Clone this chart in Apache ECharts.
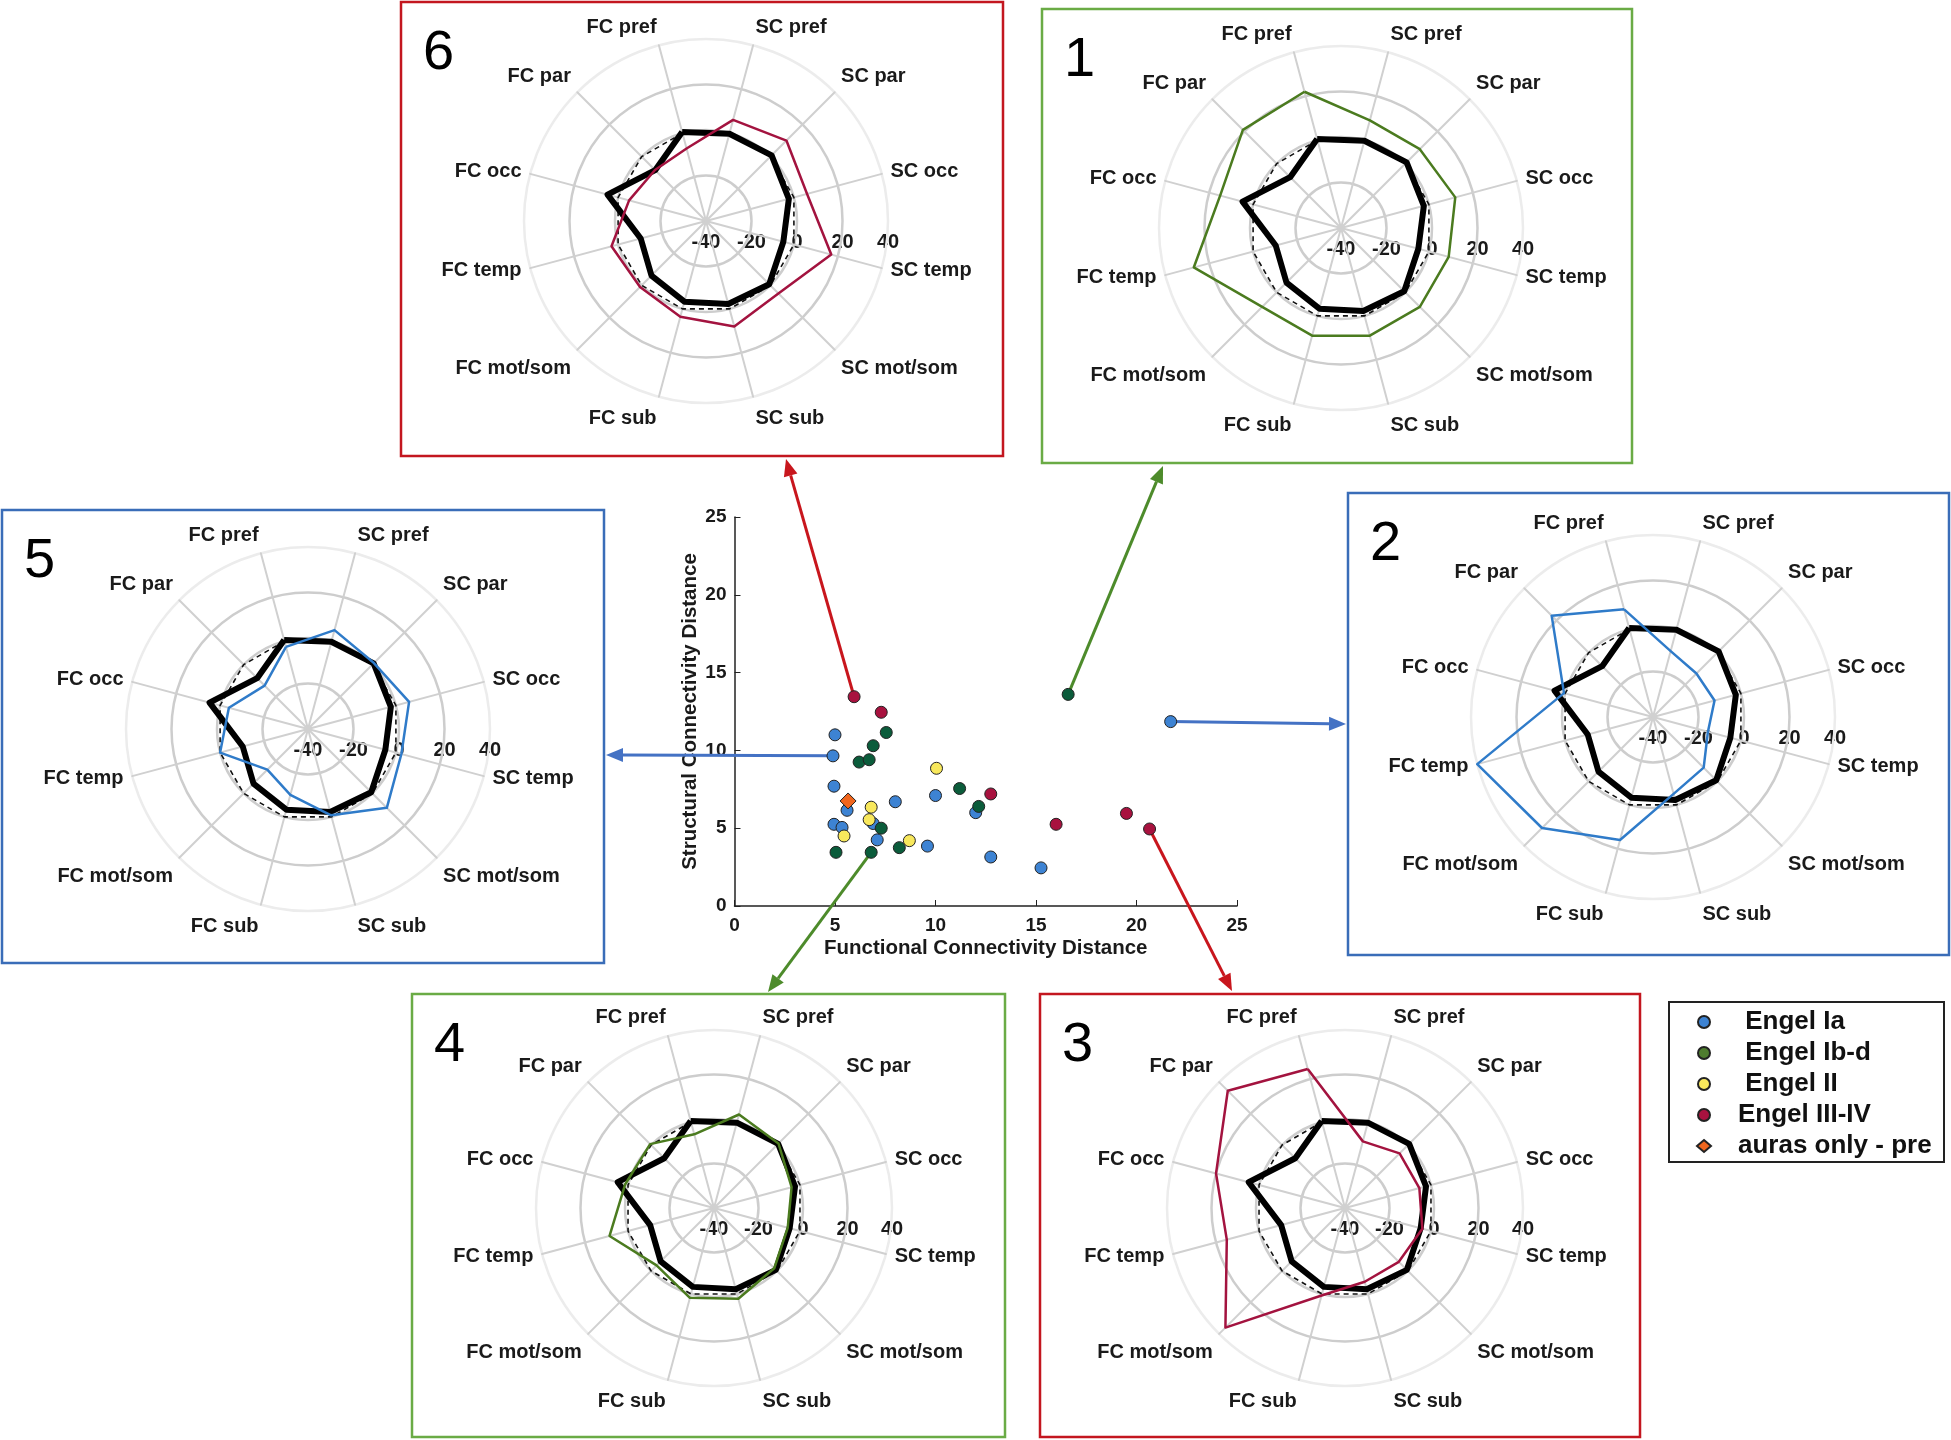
<!DOCTYPE html>
<html>
<head>
<meta charset="utf-8">
<title>FC / SC connectivity distance</title>
<script src="https://cdn.jsdelivr.net/npm/echarts@6/dist/echarts.min.js"></script>
<style>
  html, body { margin: 0; padding: 0; background: #fff; }
  #main { width: 1951px; height: 1440px; }
</style>
</head>
<body>
<div id="main"></div>
<script>
var FONT = '"Liberation Sans", Arial, sans-serif';

// radar axes, counter-clockwise starting at FC pref
var regions = ['FC pref', 'FC par', 'FC occ', 'FC temp', 'FC mot/som', 'FC sub',
               'SC sub', 'SC mot/som', 'SC temp', 'SC occ', 'SC par', 'SC pref'];
var radarTicks = [-40, -20, 0, 20, 40];

// thick black profile and dashed zero reference (same in every panel)
var groupProfile = [0.5, -8.4, 4.8, -10.3, -6.1, -3.3, -2.2, -0.7, -4.8, -2.3, 0.8, -0.3];
var zeroProfile  = [0, 0, 0, 0, 0, 0, 0, 0, 0, 0, 0, 0];

// single patients shown in panels 1-6
var patient1 = [22, 21, 15, 27, 9, 9, 9, 9, 9, 12, 9, 9];
var patient2 = [9, 23, 0.5, 40, 29, 16, -5, -8.5, -15, -12, -13, -10];
var patient3 = [24.7, 34.5, 20, 15, 36, 0.7, -5.7, -5.8, -4, -5.4, -5.3, -9];
var patient4 = [-5.7, 0.6, 1.3, 8.6, -3.5, 1.8, 2.2, -1.7, -5.7, -3.9, 1, 3.5];
var patient5 = [-2.6, -13, -4, 0, -14.7, -10, -0.7, 9, 2.5, 6, 1, 5];
var patient6 = [-7, -8.3, -5, 3, 1, 3.6, 8, 5, 17, 6, 10, 6];

// scatter: [functional distance, structural distance]
var engelIa = [[5.0, 11.0], [4.9, 9.65], [4.95, 7.7], [5.6, 6.15], [4.95, 5.25], [5.35, 5.05],
               [6.9, 5.3], [7.1, 4.25], [8.0, 6.7], [10.0, 7.1], [9.6, 3.85], [12.0, 6.0],
               [12.75, 3.15], [15.25, 2.45], [21.7, 11.85]];
var engelIbd = [[16.6, 13.6], [7.55, 11.15], [6.9, 10.3], [6.2, 9.25], [6.7, 9.4], [11.2, 7.55],
                [12.15, 6.4], [7.3, 5.0], [5.05, 3.45], [6.8, 3.45], [8.2, 3.75]];
var engelII = [[10.05, 8.85], [6.8, 6.35], [6.7, 5.55], [5.45, 4.5], [8.7, 4.2]];
var engelIIIIV = [[5.95, 13.45], [7.3, 12.45], [12.75, 7.2], [16.0, 5.25], [19.5, 5.95], [20.65, 4.95]];
var aurasOnly = [[5.65, 6.75]];

var RED = '#c3161f', GREEN = '#6aab45', BLUE = '#3a6db8';
var RED_LINE = '#a3133f', GREEN_LINE = '#4b7b1f', BLUE_LINE = '#2f7bc9';

var panels = [
    { label: '6', box: [401, 2, 602, 454],    center: [706, 221],   radius: 182, frame: RED,   line: RED_LINE,   values: patient6 },
    { label: '1', box: [1042, 9, 590, 454],   center: [1341, 228],  radius: 182, frame: GREEN, line: GREEN_LINE, values: patient1 },
    { label: '2', box: [1348, 493, 601, 462], center: [1653, 717],  radius: 182, frame: BLUE,  line: BLUE_LINE,  values: patient2 },
    { label: '5', box: [2, 510, 602, 453],    center: [308, 729],   radius: 182, frame: BLUE,  line: BLUE_LINE,  values: patient5 },
    { label: '4', box: [412, 994, 593, 443],  center: [714, 1208],  radius: 178, frame: GREEN, line: GREEN_LINE, values: patient4 },
    { label: '3', box: [1040, 994, 600, 443], center: [1345, 1208], radius: 178, frame: RED,   line: RED_LINE,   values: patient3 }
];

// which scatter point leads to which panel, arrow tip on the panel frame
var arrows = [
    { point: engelIIIIV[0], tip: [786, 459],   color: '#c8161d' },
    { point: engelIbd[0],   tip: [1163, 466],  color: '#4d8b2b' },
    { point: engelIa[1],    tip: [606, 755],   color: '#4472c4' },
    { point: engelIa[14],   tip: [1346, 724],  color: '#4472c4' },
    { point: engelIbd[9],   tip: [768, 992],   color: '#4d8b2b' },
    { point: engelIIIIV[5], tip: [1232, 991],  color: '#c8161d' }
];

function nameRow(name) {
    if (/pref|par/.test(name)) return 'up';
    if (/mot|sub/.test(name)) return 'dn';
    return 'mid';
}

var nameStyle = { fontSize: 20, fontWeight: 'bold', fontFamily: FONT, color: '#1a1a1a' };
var radars = [], series = [], graphics = [];

panels.forEach(function (p, i) {
    radars.push({
        center: p.center,
        radius: p.radius,
        startAngle: 105,
        shape: 'circle',
        splitNumber: 4,
        indicator: regions.map(function (n) { return { name: n, min: -40, max: 40 }; }),
        axisNameGap: 9,
        axisName: {
            formatter: function (name) { return '{' + nameRow(name) + '|' + name + '}'; },
            rich: {
                up: Object.assign({ padding: [0, 0, 19, 0] }, nameStyle),
                mid: Object.assign({}, nameStyle),
                dn: Object.assign({ padding: [25, 0, 0, 0] }, nameStyle)
            }
        },
        splitLine: { lineStyle: { color: ['#cdcdcd', '#cdcdcd', '#cdcdcd', '#cdcdcd', '#ececec'], width: 2.5 } },
        splitArea: { show: false },
        axisLine: { lineStyle: { color: '#d0d0d0', width: 2 } },
        axisTick: { show: false },
        axisLabel: { show: false }
    });
    series.push({
        type: 'radar', radarIndex: i, symbol: 'none', silent: true, z: 3,
        data: [
            { value: zeroProfile, lineStyle: { color: '#111', width: 1.6, type: [5, 4] } },
            { value: groupProfile, lineStyle: { color: '#000', width: 6 } },
            { value: p.values, lineStyle: { color: p.line, width: 2.5 } }
        ]
    });
    graphics.push({
        type: 'rect', shape: { x: p.box[0], y: p.box[1], width: p.box[2], height: p.box[3] },
        style: { fill: 'none', stroke: p.frame, lineWidth: 2.5 }
    });
    graphics.push({
        type: 'text', x: p.box[0] + 22, y: p.box[1] + 24,
        style: { text: p.label, font: 'normal 56px ' + FONT, fill: '#000', textVerticalAlign: 'top' }
    });
    graphics.push({
        type: 'circle', shape: { cx: p.center[0], cy: p.center[1], r: 2.5 }, style: { fill: '#555' }
    });
    radarTicks.forEach(function (t) {
        graphics.push({
            type: 'text', x: p.center[0] + (t + 40) / 80 * p.radius, y: p.center[1] + 21,
            style: { text: String(t), font: 'bold 20px ' + FONT, fill: '#1a1a1a',
                     textAlign: 'center', textVerticalAlign: 'middle' }
        });
    });
});

// legend frame
graphics.push({
    type: 'rect', shape: { x: 1669, y: 1002, width: 275, height: 160 },
    style: { fill: 'none', stroke: '#222', lineWidth: 2 }
});

function scatter(name, data, color, symbol) {
    return {
        type: 'scatter', name: name, data: data, xAxisIndex: 0, yAxisIndex: 0,
        symbol: symbol || 'circle', symbolSize: symbol ? 16 : 12, z: 6,
        itemStyle: { color: color, borderColor: '#222', borderWidth: 1, opacity: 1 }
    };
}
series.push(scatter('Engel Ia', engelIa, '#3d83d3'));
series.push(scatter('Engel Ib-d', engelIbd, '#0b5c3b'));
series.push(scatter('Engel II', engelII, '#f8e85c'));
series.push(scatter('Engel III-IV', engelIIIIV, '#a8123f'));
series.push(scatter('auras only - pre', aurasOnly, '#f0661e', 'diamond'));

var indented = ['Engel Ia', 'Engel Ib-d', 'Engel II'];
var axisText = { fontSize: 19, fontWeight: 'bold', fontFamily: FONT, color: '#1a1a1a' };
var axisNameText = { fontSize: 20.5, fontWeight: 'bold', fontFamily: FONT, color: '#1a1a1a' };

var option = {
    animation: false,
    backgroundColor: '#fff',
    radar: radars,
    grid: { left: 734.5, top: 517, width: 502.5, height: 389 },
    xAxis: {
        type: 'value', min: 0, max: 25, interval: 5,
        name: 'Functional Connectivity Distance', nameLocation: 'middle', nameGap: 32,
        nameTextStyle: axisNameText,
        axisLine: { lineStyle: { color: '#222', width: 1.5 } },
        axisTick: { inside: true, length: 6, lineStyle: { color: '#222' } },
        axisLabel: Object.assign({ margin: 10 }, axisText),
        splitLine: { show: false }
    },
    yAxis: {
        type: 'value', min: 0, max: 25, interval: 5,
        name: 'Structural Connectivity Distance', nameLocation: 'middle', nameGap: 34,
        nameTextStyle: axisNameText,
        axisLine: { show: true, lineStyle: { color: '#222', width: 1.5 } },
        axisTick: { show: true, inside: true, length: 6, lineStyle: { color: '#222' } },
        axisLabel: Object.assign({ margin: 8 }, axisText),
        splitLine: { show: false }
    },
    legend: {
        orient: 'vertical', left: 1691, top: 1004,
        itemWidth: 14, itemHeight: 12, itemGap: 5,
        selectedMode: false,
        formatter: function (n) { return (indented.indexOf(n) >= 0 ? ' ' : '') + n; },
        textStyle: { fontSize: 26, fontWeight: 'bold', fontFamily: FONT, color: '#111',
                     lineHeight: 26, padding: [0, 0, 0, 22] },
        data: [
            { name: 'Engel Ia', icon: 'circle' },
            { name: 'Engel Ib-d', icon: 'circle', itemStyle: { color: '#4f7d2f' } },
            { name: 'Engel II', icon: 'circle' },
            { name: 'Engel III-IV', icon: 'circle' },
            { name: 'auras only - pre', icon: 'diamond' }
        ]
    },
    graphic: graphics,
    series: series
};

var chart = echarts.init(document.getElementById('main'), null, { renderer: 'canvas' });
chart.setOption(option);

// arrows from the scatter points out to their panels
arrows.forEach(function (a) {
    var s = chart.convertToPixel({ gridIndex: 0 }, a.point);
    var dx = a.tip[0] - s[0], dy = a.tip[1] - s[1];
    var len = Math.sqrt(dx * dx + dy * dy), ux = dx / len, uy = dy / len;
    var head = 17, half = 7;
    var bx = a.tip[0] - ux * head, by = a.tip[1] - uy * head;
    graphics.push({
        type: 'line', z: 1,
        shape: { x1: s[0], y1: s[1], x2: bx, y2: by },
        style: { stroke: a.color, lineWidth: 3 }
    });
    graphics.push({
        type: 'polygon', z: 1,
        shape: { points: [a.tip, [bx - uy * half, by + ux * half], [bx + uy * half, by - ux * half]] },
        style: { fill: a.color }
    });
});
chart.setOption({ graphic: graphics });
</script>
</body>
</html>
